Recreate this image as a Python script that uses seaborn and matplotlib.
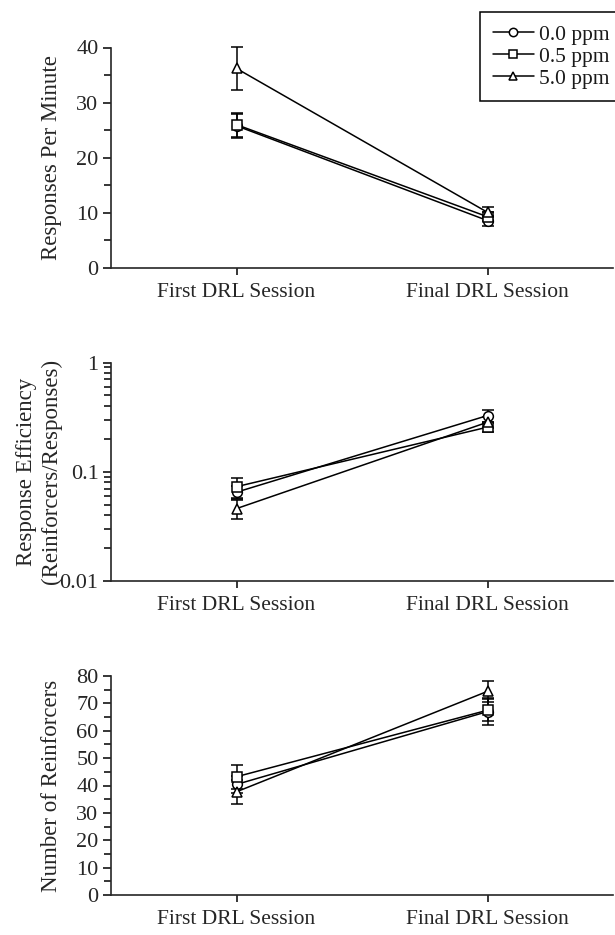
import numpy as np
import pandas as pd
import matplotlib.pyplot as plt
import seaborn as sns
from matplotlib.lines import Line2D
from matplotlib.ticker import MultipleLocator, LogLocator, NullFormatter, FixedLocator, FixedFormatter

# --- data ---
sessions = ["First DRL Session", "Final DRL Session"]
doses = ["0.0 ppm", "0.5 ppm", "5.0 ppm"]
marker_list = ["o", "s", "^"]

# responses per minute (mean, SE) per dose: [first, final]
rate_mean = [[25.8, 8.6], [26.0, 9.3], [36.2, 10.1]]
rate_se = [[2.2, 0.9], [2.2, 0.8], [3.9, 0.9]]

# response efficiency (reinforcers / responses)
eff_mean = [[0.065, 0.327], [0.073, 0.256], [0.046, 0.284]]
eff_se = [[0.009, 0.040], [0.015, 0.025], [0.009, 0.030]]

# number of reinforcers
sr_mean = [[40.4, 67.0], [43.2, 67.5], [37.7, 74.4]]
sr_se = [[3.0, 5.0], [4.3, 4.0], [4.3, 3.8]]


def long_df(means, ses):
    rows = []
    for d, m, s in zip(doses, means, ses):
        for sess, v, e in zip(sessions, m, s):
            rows.append({"Session": sess, "Dose": d, "value": v, "se": e})
    return pd.DataFrame(rows)


sns.set_theme(style="ticks")
plt.rcParams["font.family"] = ["Liberation Serif", "DejaVu Serif"]
plt.rcParams["axes.linewidth"] = 1.2
plt.rcParams["text.color"] = "#1a1a1a"

W, H = 615, 935
fig = plt.figure(figsize=(W / 100, H / 100), dpi=100)


def px_axes(left, right, top, bottom):
    return fig.add_axes([left / W, 1 - bottom / H, (right - left) / W, (bottom - top) / H])


panels = [
    (long_df(rate_mean, rate_se), "Responses Per Minute", px_axes(111, 613, 47.5, 268)),
    (long_df(eff_mean, eff_se), "Response Efficiency\n(Reinforcers/Responses)", px_axes(111, 613, 362.5, 581)),
    (long_df(sr_mean, sr_se), "Number of Reinforcers", px_axes(111, 613, 676, 895)),
]

for i, (df, ylabel, ax) in enumerate(panels):
    if i == 1:
        ax.set_yscale("log")
    for d in doses:
        sub = df[df["Dose"] == d]
        eb = ax.errorbar(sub["Session"], sub["value"], yerr=sub["se"], fmt="none",
                         ecolor="black", elinewidth=1.1, capsize=4.5, capthick=1.1, zorder=2)
        for art in eb.get_children():
            art.set_clip_on(False)
    sns.lineplot(data=df, x="Session", y="value", style="Dose", style_order=doses,
                 markers=marker_list, dashes=False, color="black", lw=1.1,
                 markersize=7, markerfacecolor="white", markeredgecolor="black",
                 mew=1.1, legend=False, ax=ax, zorder=3, sort=False)

    ax.set_xlim(-0.5, 1.5)
    ax.set_xlabel("")
    ax.set_ylabel(ylabel, fontsize=16.5, linespacing=1.25)
    ax.yaxis.set_label_coords(-0.097, 0.5)
    for s in ["top", "right"]:
        ax.spines[s].set_visible(False)
    ax.tick_params(axis="y", which="major", direction="out", length=6, width=1.1,
                   labelsize=16, pad=3, color="black")
    ax.tick_params(axis="y", which="minor", direction="out", length=5, width=1.1, color="black")
    ax.tick_params(axis="x", direction="out", length=5, width=1.1, labelsize=15.5,
                   pad=6, color="black")

    if i == 0:
        ax.set_ylim(0, 40)
        ax.yaxis.set_major_locator(MultipleLocator(10))
        ax.yaxis.set_minor_locator(MultipleLocator(5))
    elif i == 1:
        ax.set_ylim(0.01, 1)
        ax.yaxis.set_major_locator(FixedLocator([0.01, 0.1, 1]))
        ax.yaxis.set_major_formatter(FixedFormatter(["0.01", "0.1", "1"]))
        ax.yaxis.set_minor_locator(LogLocator(base=10, subs=np.arange(2, 10)))
        ax.yaxis.set_minor_formatter(NullFormatter())
    else:
        ax.set_ylim(0, 80)
        ax.yaxis.set_major_locator(MultipleLocator(10))
        ax.yaxis.set_minor_locator(MultipleLocator(5))

handles = [Line2D([], [], color="black", lw=1.1, marker=m, markersize=6,
                  markerfacecolor="white", markeredgecolor="black", mew=1.1)
           for m in marker_list]
leg = fig.legend(handles, doses, loc="upper left", bbox_to_anchor=(480 / W, 1 - 12 / H),
                 frameon=True, fancybox=False, edgecolor="black", framealpha=1,
                 fontsize=15.5, handlelength=1.9, handletextpad=0.23, labelspacing=0.08,
                 borderpad=0.6, borderaxespad=0)
leg.get_frame().set_linewidth(1.1)

fig.savefig("out.png", dpi=100)
